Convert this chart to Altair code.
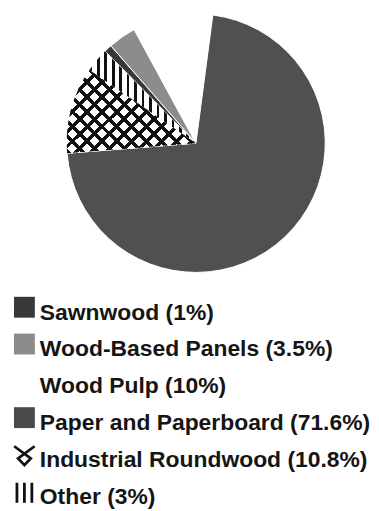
import math
import altair as alt
import pandas as pd

# ---- data ----
categories = ["Sawnwood", "Wood-Based Panels", "Wood Pulp",
              "Paper and Paperboard", "Industrial Roundwood", "Other"]
shares = [1.0, 3.5, 10.0, 71.6, 10.8, 3.0]
labels = ["Sawnwood (1%)", "Wood-Based Panels (3.5%)", "Wood Pulp (10%)",
          "Paper and Paperboard (71.6%)", "Industrial Roundwood (10.8%)", "Other (3%)"]

# ---- styles ----
pie_colors = ["#383838", "#8c8c8c", "#ffffff", "#505050", "#ffffff", "#ffffff"]
key_colors = ["#383838", "#8c8c8c", "#ffffff", "#4a4a4a", "#ffffff", "#ffffff"]

df = pd.DataFrame({"category": categories, "value": shares,
                   "label": labels, "idx": list(range(len(categories)))})

total = sum(shares)
start_deg = 7.5 - (shares[0] + shares[1] + shares[2]) / total * 360.0
a0 = math.radians(start_deg + 360.0)
theta_scale = alt.Scale(domain=[0, total], range=[a0, a0 + 2 * math.pi])

CX, CY, R = 186, 134.5, 130


def stripes(x1, y1, x2, y2, n_periods, frac, bg="transparent"):
    p = 1.0 / n_periods
    stops = []
    k = 0
    while k * p < 1.0:
        s = k * p
        e = min(s + frac * p, 1.0)
        n = min((k + 1) * p, 1.0)
        stops.append({"offset": s, "color": "#111111"})
        stops.append({"offset": e, "color": "#111111"})
        stops.append({"offset": e, "color": bg})
        stops.append({"offset": n, "color": bg})
        k += 1
    return {"gradient": "linear", "x1": x1, "y1": y1, "x2": x2, "y2": y2,
            "stops": stops}


# crosshatch for Industrial Roundwood (bbox approx w x h)
w, h = 130.0, 84.0
c = (w + h) / (w * w + h * h)
n_cross = (w + h) / 15.0
frac_cross = 5.0 / 15.0
gradA = stripes(0, 0, c * w, c * h, n_cross, frac_cross)
gradB = stripes(0, 1, c * w, 1 - c * h, n_cross, frac_cross)

# vertical stripes for Other
wo = 107.0
gradV = stripes(0, 0, 1, 0, wo / 7.5, 2.8 / 7.5)

is_ir = alt.datum.category == "Industrial Roundwood"
is_other = alt.datum.category == "Other"

base = alt.Chart(df).encode(
    theta=alt.Theta("value:Q", stack=True, scale=theta_scale),
    order=alt.Order("idx:Q", sort="ascending"),
    detail="category:N",
    x=alt.value(CX),
    y=alt.value(CY),
)

pie_base = base.mark_arc(radius=R, stroke="#ffffff", strokeWidth=1).encode(
    fill=alt.Fill("category:N", scale=alt.Scale(domain=categories, range=pie_colors),
                  legend=None)
)
pie_a = base.mark_arc(radius=R).encode(
    fill=alt.when(is_ir).then(alt.value(gradA)).otherwise(alt.value("transparent"))
)
pie_b = base.mark_arc(radius=R).encode(
    fill=alt.when(is_ir).then(alt.value(gradB))
    .when(is_other).then(alt.value(gradV))
    .otherwise(alt.value("transparent"))
)

pie = alt.layer(pie_base, pie_a, pie_b).properties(width=360, height=270)

# ---- legend drawn as its own view ----
yscale = alt.Scale(type="point", domain=list(range(len(categories))),
                   range=[42, 42 + 37 * (len(categories) - 1)], padding=0)
lbase = alt.Chart(df).encode(y=alt.Y("idx:O", scale=yscale, axis=None))

squares = lbase.mark_point(shape="square", filled=True, size=440, opacity=1,
                           yOffset=-12.5).encode(
    x=alt.value(13.5),
    color=alt.Color("category:N", scale=alt.Scale(domain=categories, range=key_colors),
                    legend=None),
).transform_filter(
    alt.FieldOneOfPredicate(field="category",
                            oneOf=["Sawnwood", "Wood-Based Panels", "Wood Pulp",
                                   "Paper and Paperboard"])
)

ir_path = "M-1,-0.9L0.62,0.3L0,0.95L-0.62,0.3L1,-0.9"
ir_key = lbase.mark_point(shape=ir_path, filled=False, size=420, stroke="#111111",
                          strokeWidth=2.8, opacity=1, yOffset=-11.5).encode(
    x=alt.value(13.5)
).transform_filter(is_ir)

other_path = "M-0.75,-1L-0.75,1M0,-1L0,1M0.75,-1L0.75,1"
other_key = lbase.mark_point(shape=other_path, filled=False, size=400, stroke="#111111",
                             strokeWidth=2.8, opacity=1, yOffset=-11).encode(
    x=alt.value(13.5)
).transform_filter(is_other)

texts = lbase.mark_text(align="left", baseline="alphabetic", font="Liberation Sans",
                        fontSize=23, fontWeight="bold", color="#151515").encode(
    x=alt.value(29),
    text="label:N",
)

legend = alt.layer(squares, ir_key, other_key, texts).properties(width=360, height=233)

chart = alt.vconcat(pie, legend, spacing=0).properties(padding=0).configure_view(stroke=None)

chart.save("out.html", embed_options={"renderer": "svg", "actions": False})
